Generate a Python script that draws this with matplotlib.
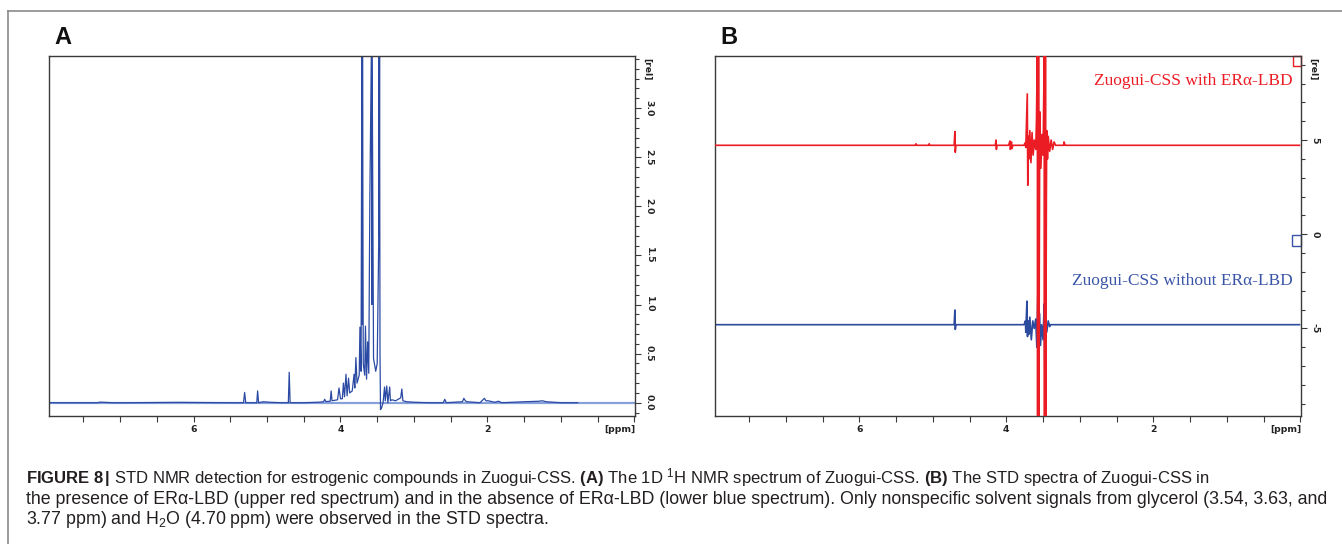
import matplotlib
matplotlib.use("Agg")
import matplotlib.pyplot as plt
from matplotlib.ticker import FixedLocator, MultipleLocator, FormatStrFormatter
from matplotlib.patches import Rectangle
from matplotlib.lines import Line2D

# ---------------- data ----------------
# Panel A: 1D 1H NMR spectrum, vertices (ppm, relative intensity)
a_ppm = [7.97, 7.60, 7.30, 7.28, 7.10, 6.90, 6.20, 5.50, 5.32, 5.305, 5.29, 5.14,
         5.128, 5.115, 5.05, 4.95, 4.80, 4.71, 4.698, 4.686, 4.50, 4.30, 4.23,
         4.215, 4.20, 4.14, 4.127, 4.115, 4.04, 4.02, 4.00, 3.975, 3.96, 3.945,
         3.925, 3.91, 3.89, 3.875, 3.84, 3.815, 3.805, 3.79, 3.775, 3.745, 3.735,
         3.72, 3.708, 3.704, 3.700, 3.69, 3.67, 3.66, 3.645, 3.63, 3.615, 3.60,
         3.578, 3.574, 3.570, 3.55, 3.52, 3.50, 3.48, 3.476, 3.472, 3.468,
         3.462, 3.455, 3.44, 3.42, 3.40, 3.39, 3.37,
         3.355, 3.33, 3.32, 3.30, 3.25, 3.18, 3.165, 3.15, 3.10, 3.00, 2.80,
         2.60, 2.58, 2.56, 2.34, 2.32, 2.30, 2.28, 2.10, 2.04, 2.02, 1.99, 1.90,
         1.85, 1.80, 1.50, 1.30, 1.25, 1.20, 1.00, 0.77]
a_int = [0.0, 0.0, 0.0, 0.006, 0.0, 0.0, 0.004, 0.0, 0.0, 0.105, 0.0, 0.0,
         0.12, 0.0, 0.01, 0.004, 0.0, 0.0, 0.31, 0.0, 0.0, 0.005, 0.01,
         0.035, 0.012, 0.015, 0.12, 0.02, 0.03, 0.15, 0.04, 0.04, 0.20, 0.06,
         0.29, 0.07, 0.25, 0.10, 0.12, 0.29, 0.15, 0.46, 0.20, 0.28, 0.77,
         0.32, 3.70, 0.80, 3.70, 0.40, 0.28, 0.78, 0.24, 0.62, 0.30, 2.10,
         3.70, 1.00, 3.70, 0.45, 0.32, 0.40, 1.60, 3.70, 1.70, 3.70,
         0.50, -0.07, -0.05, 0.0, 0.16, 0.02, 0.17,
         0.0, 0.16, 0.02, 0.03, 0.02, 0.05, 0.14, 0.02, 0.01, 0.005, 0.0,
         0.0, 0.035, 0.0, 0.01, 0.045, 0.02, 0.01, 0.0, 0.045, 0.02, 0.02, 0.005,
         0.015, 0.0, 0.01, 0.015, 0.02, 0.01, 0.0, 0.0]

# Panel B: STD spectra (vertices, ppm / relative intensity incl. vertical offset)
b_red_ppm = [7.97, 5.24, 5.23, 5.22, 5.06, 5.05, 5.04, 4.71, 4.700, 4.695, 4.685,
             4.15, 4.14, 4.135, 4.13, 3.97, 3.95, 3.945, 3.93, 3.925, 3.91, 3.76,
             3.745, 3.735, 3.715, 3.708, 3.70, 3.69, 3.68, 3.665, 3.65, 3.635,
             3.62, 3.60, 3.59, 3.578, 3.574, 3.570, 3.566, 3.562, 3.558, 3.545,
             3.53, 3.515, 3.50, 3.49, 3.484, 3.480, 3.476, 3.472, 3.468, 3.464,
             3.455, 3.45, 3.44, 3.43, 3.41, 3.39, 3.37, 3.35, 3.33,
             3.22, 3.215, 3.20, 0.01]
b_red_int = [4.72, 4.72, 4.80, 4.72, 4.72, 4.80, 4.72, 4.72, 5.45, 4.35, 4.72,
             4.72, 5.00, 4.50, 4.72, 4.72, 4.95, 4.50, 4.90, 4.55, 4.72, 4.72,
             4.85, 4.60, 7.45, 2.60, 5.20, 4.00, 5.50, 3.80, 5.40, 4.20,
             5.00, 4.50, 6.00, 9.90, -9.90, 9.90, -9.90, 9.90, -9.90, 6.50,
             3.50, 5.30, 4.20, 7.60, 9.90, -9.90, 9.90, -9.90, 9.90, -9.90,
             2.00, 5.50, 4.00, 5.20, 4.40, 5.00, 4.50, 4.90, 4.72,
             4.72, 4.90, 4.72, 4.72]
b_blue_ppm = [7.97, 4.71, 4.700, 4.695, 4.685, 3.76, 3.74, 3.735, 3.72, 3.712,
              3.70, 3.69, 3.68, 3.66, 3.64, 3.62, 3.60, 3.585, 3.57, 3.562,
              3.55, 3.535, 3.52, 3.50, 3.485, 3.475, 3.465, 3.45, 3.43, 3.41,
              3.40, 0.01]
b_blue_int = [-4.80, -4.80, -4.02, -5.05, -4.80, -4.80, -4.60, -5.20, -3.55, -5.43,
              -4.60, -5.30, -4.40, -5.60, -4.60, -5.00, -4.50, -6.00, -2.85, -8.55,
              -4.20, -5.90, -4.80, -5.60, -3.70, -7.95, -4.30, -5.20, -4.60, -4.90,
              -4.80, -4.80]

x_major = [6, 4, 2]
a_yticks = [0.0, 0.5, 1.0, 1.5, 2.0, 2.5, 3.0]
b_yticks = [-5, 0, 5]
panel_labels = ["A", "B"]
red_label = "Zuogui-CSS with ER\u03b1-LBD"
blue_label = "Zuogui-CSS without ER\u03b1-LBD"
caption_lines = [
    r"$\mathbf{FIGURE\ 8\,|}$ STD NMR detection for estrogenic compounds in Zuogui-CSS. "
    r"$\mathbf{(A)}$ The 1D $^{1}$H NMR spectrum of Zuogui-CSS. $\mathbf{(B)}$ The STD spectra of Zuogui-CSS in",
    "the presence of ER\u03b1-LBD (upper red spectrum) and in the absence of ER\u03b1-LBD "
    "(lower blue spectrum). Only nonspecific solvent signals from glycerol (3.54, 3.63, and",
    r"3.77 ppm) and H$_{2}$O (4.70 ppm) were observed in the STD spectra.",
]

# ---------------- style ----------------
plt.rcParams["mathtext.fontset"] = "custom"
plt.rcParams["mathtext.rm"] = "Liberation Sans"
plt.rcParams["mathtext.it"] = "Liberation Sans"
plt.rcParams["mathtext.bf"] = "Liberation Sans:bold"

W, H = 1342, 544
fig = plt.figure(figsize=(W / 100, H / 100), dpi=100)

# outer frame lines (top and left)
fig.add_artist(Line2D([8 / W, 1.0], [1 - 11 / H, 1 - 11 / H], color="#8a8a8a", lw=1.2))
fig.add_artist(Line2D([8 / W, 8 / W], [0, 1 - 11 / H], color="#8a8a8a", lw=1.2))

ax_bot = 1 - 415.5 / H
ax_h = (415.5 - 56) / H
axA = fig.add_axes([48.9 / W, ax_bot, (635 - 48.9) / W, ax_h])
axB = fig.add_axes([714.6 / W, ax_bot, (1301 - 714.6) / W, ax_h])

spine_c = "#3a3a3a"
tick_font = dict(family="DejaVu Sans", weight="bold", size=6.7)

for ax in (axA, axB):
    for s in ax.spines.values():
        s.set_color(spine_c)
        s.set_linewidth(1.0)
    ax.set_xlim(7.97, -0.01)
    ax.xaxis.set_major_locator(FixedLocator(x_major))
    ax.xaxis.set_minor_locator(MultipleLocator(0.5))
    ax.xaxis.set_major_formatter(FormatStrFormatter("%d"))
    ax.yaxis.tick_right()
    ax.tick_params(axis="both", which="both", direction="out", color=spine_c,
                   width=0.8, labelcolor="#222222")
    ax.tick_params(axis="x", which="major", length=4, pad=3)
    ax.tick_params(axis="x", which="minor", length=4)
    ax.tick_params(axis="y", which="major", length=4, pad=3)
    ax.tick_params(axis="y", which="minor", length=3)
    for lab in ax.get_xticklabels():
        lab.set(**tick_font)
    ax.annotate("[ppm]", xy=(1, 0), xycoords="axes fraction", xytext=(0, -7),
                textcoords="offset points", ha="right", va="top",
                color="#222222", **tick_font)
    ax.annotate("[rel]", xy=(1, 1), xycoords="axes fraction", xytext=(5.5, -1.5),
                textcoords="offset points", ha="left", va="top", rotation=-90,
                color="#222222", **tick_font)

# Panel A
axA.set_ylim(-0.13, 3.53)
axA.yaxis.set_major_locator(FixedLocator(a_yticks))
axA.yaxis.set_minor_locator(MultipleLocator(0.1))
axA.yaxis.set_major_formatter(FormatStrFormatter("%.1f"))
for lab in axA.get_yticklabels():
    lab.set(rotation=-90, va="center", ha="left", **tick_font)
axA.axhline(0, color="#86a0da", lw=1.6, zorder=1)
axA.plot(a_ppm, a_int, color="#2b4aa3", lw=0.9, zorder=2)

# Panel B
axB.set_ylim(-9.62, 9.46)
axB.yaxis.set_major_locator(FixedLocator(b_yticks))
axB.yaxis.set_minor_locator(MultipleLocator(1))
axB.yaxis.set_major_formatter(FormatStrFormatter("%d"))
for lab in axB.get_yticklabels():
    lab.set(rotation=-90, va="center", ha="left", **tick_font)
axB.plot(b_blue_ppm, b_blue_int, color="#2c4a9e", lw=1.2, zorder=2)
axB.plot(b_red_ppm, b_red_int, color="#ec1c24", lw=1.2, zorder=3)
axB.text(0.986, 0.930, red_label, transform=axB.transAxes, ha="right", va="center",
         color="#ec1c24", family="Liberation Serif", size=12.5)
axB.text(0.986, 0.374, blue_label, transform=axB.transAxes, ha="right", va="center",
         color="#3a55a8", family="Liberation Serif", size=12.5)
axB.add_patch(Rectangle((0.986, 0.972), 0.014, 0.027, transform=axB.transAxes,
                        fill=False, edgecolor="#ec1c24", lw=1.0, clip_on=False))
axB.add_patch(Rectangle((0.985, 0.4715), 0.015, 0.03, transform=axB.transAxes,
                        fill=False, edgecolor="#3a55a8", lw=1.0, clip_on=False))

# panel letters
fig.text(54 / W, 1 - 38 / H, panel_labels[0], ha="left", va="center",
         family="Liberation Sans", weight="bold", size=17, color="#111111")
fig.text(720 / W, 1 - 38 / H, panel_labels[1], ha="left", va="center",
         family="Liberation Sans", weight="bold", size=17, color="#111111")

# caption
for line, y, fs in zip(caption_lines, [478, 499, 520], [12.0, 12.8, 12.8]):
    fig.text(26 / W, 1 - y / H, line, ha="left", va="center",
             family="Liberation Sans", size=fs, color="#231f20")

fig.savefig("out.png", dpi=100)
